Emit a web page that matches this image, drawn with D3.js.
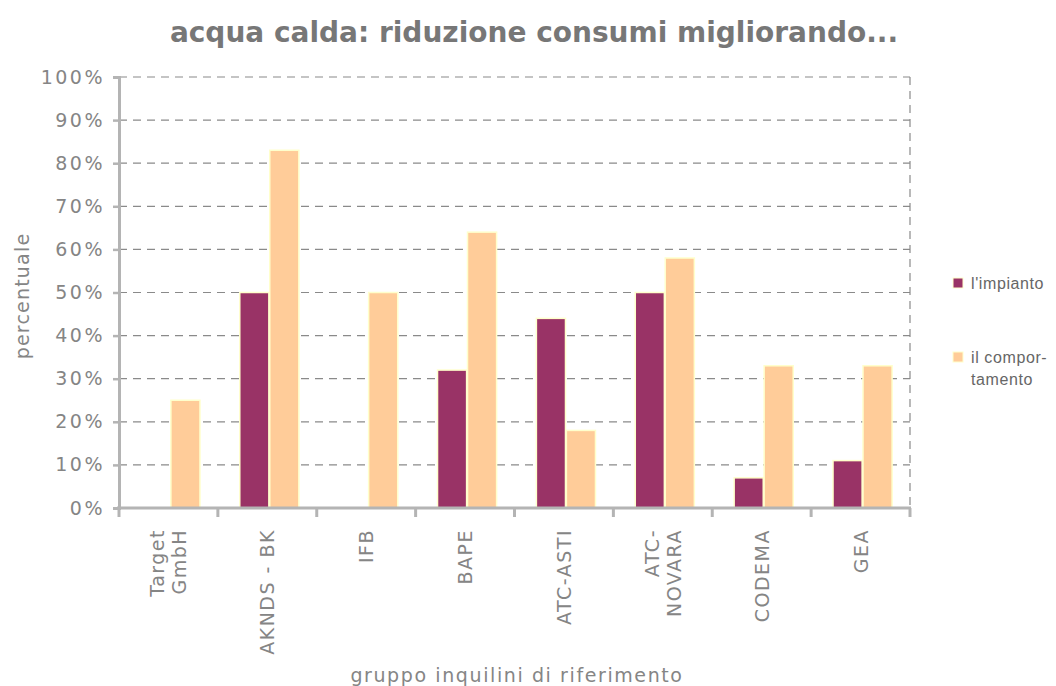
<!DOCTYPE html>
<html>
<head>
<meta charset="utf-8">
<script src="https://cdn.jsdelivr.net/npm/d3@7"></script>
<style>
  body { margin: 0; background: #fff; }
</style>
</head>
<body>
<script>
// data
var categories = [["Target", "GmbH"], ["AKNDS - BK"], ["IFB"], ["BAPE"], ["ATC-ASTI"], ["ATC-", "NOVARA"], ["CODEMA"], ["GEA"]];
var impianto = [0, 50, 0, 32, 44, 50, 7, 11];
var comportamento = [25, 83, 50, 64, 18, 58, 33, 33];
var seriesNames = ["l'impianto", "il compor-\ntamento"];
var seriesColors = ["#993366", "#ffcc99"];
var yTicks = [0, 10, 20, 30, 40, 50, 60, 70, 80, 90, 100];

var margin = {top: 77, right: 146, bottom: 178, left: 119},
    width = 1056 - margin.left - margin.right,
    height = 686 - margin.top - margin.bottom;

var fontMain = "Verdana, 'DejaVu Sans', sans-serif";
var textGray = "#858585";

var svg = d3.select("body").append("svg")
    .attr("width", 1056)
    .attr("height", 686);

var g = svg.append("g")
    .attr("transform", "translate(" + margin.left + "," + margin.top + ")");

var keys = categories.map(function(d, i) { return i; });

// setup x
var xScale = d3.scaleBand().domain(keys).range([0, width]),
    xInner = d3.scaleBand().domain([0, 1]).range([21, xScale.bandwidth() - 17]).padding(0.03);

// setup y
var yScale = d3.scaleLinear().domain([0, 100]).range([height, 0]);

// gridlines
g.selectAll(".grid")
    .data(yTicks.slice(1))
  .enter().append("line")
    .attr("x1", 0)
    .attr("x2", width)
    .attr("y1", function(d) { return yScale(d); })
    .attr("y2", function(d) { return yScale(d); })
    .attr("stroke", "#8a8a8a")
    .attr("stroke-width", 1.2)
    .attr("stroke-dasharray", "8,6");

// right border dashed
g.append("line")
    .attr("x1", width).attr("x2", width)
    .attr("y1", 0).attr("y2", height)
    .attr("stroke", "#8a8a8a")
    .attr("stroke-width", 1.2)
    .attr("stroke-dasharray", "8,6");

// bars: one entry per (category, series), zero values skipped
var barData = [];
keys.forEach(function(i) {
  [impianto[i], comportamento[i]].forEach(function(v, j) {
    if (v > 0) barData.push({cat: i, s: j, value: v});
  });
});

g.selectAll(".bar")
    .data(barData)
  .enter().append("rect")
    .attr("class", "bar")
    .attr("x", function(d) { return xScale(d.cat) + xInner(d.s); })
    .attr("y", function(d) { return yScale(d.value); })
    .attr("width", xInner.bandwidth())
    .attr("height", function(d) { return height - yScale(d.value); })
    .attr("fill", function(d) { return seriesColors[d.s]; })
    .attr("stroke", "#ffffcc")
    .attr("stroke-width", 1.5);

// y-axis
var yAxis = d3.axisLeft(yScale).tickValues(yTicks).tickSize(6).tickPadding(8)
    .tickFormat(function(d) { return d + "%"; });
var yg = g.append("g").call(yAxis);
yg.select(".domain").attr("stroke", "#b4b4b4").attr("stroke-width", 3);
yg.selectAll(".tick line").attr("stroke", "#b4b4b4").attr("stroke-width", 2.5);
yg.selectAll(".tick text")
    .attr("fill", textGray)
    .style("font-family", fontMain)
    .style("font-size", "19px")
    .style("letter-spacing", "2.5px");

// x-axis
var xTicks = d3.range(categories.length + 1).map(function(i) { return i * xScale.step(); });
var xg = g.append("g").attr("transform", "translate(0," + height + ")");
xg.append("line")
    .attr("x1", -2).attr("x2", width + 1)
    .attr("stroke", "#b4b4b4").attr("stroke-width", 3);
xg.selectAll(".xt")
    .data(xTicks)
  .enter().append("line")
    .attr("x1", function(d) { return d; })
    .attr("x2", function(d) { return d; })
    .attr("y1", 0).attr("y2", 9)
    .attr("stroke", "#b4b4b4").attr("stroke-width", 3);

// x labels
xg.selectAll(".xlab")
    .data(categories)
  .enter().append("text")
    .attr("transform", function(d, i) {
      var cx = xScale(i) + xScale.bandwidth() / 2;
      return "translate(" + cx + ",21) rotate(-90)";
    })
    .style("text-anchor", "end")
    .style("font-family", fontMain)
    .style("font-size", "19px")
    .style("letter-spacing", "1.5px")
    .attr("fill", textGray)
    .each(function(d) {
      var t = d3.select(this);
      var n = d.length;
      d.forEach(function(line, k) {
        t.append("tspan")
          .attr("x", 0)
          .attr("y", (k - (n - 1) / 2) * 22 + 7)
          .text(line);
      });
    });

// axis titles
svg.append("text")
    .attr("x", 517)
    .attr("y", 682)
    .style("text-anchor", "middle")
    .style("font-family", fontMain)
    .style("font-size", "19px")
    .style("letter-spacing", "1.6px")
    .attr("fill", textGray)
    .text("gruppo inquilini di riferimento");

svg.append("text")
    .attr("transform", "translate(29,296) rotate(-90)")
    .style("text-anchor", "middle")
    .style("font-family", fontMain)
    .style("font-size", "19px")
    .style("letter-spacing", "1.2px")
    .attr("fill", textGray)
    .text("percentuale");

// title
svg.append("text")
    .attr("x", 534)
    .attr("y", 42)
    .style("text-anchor", "middle")
    .style("font-family", "'DejaVu Sans', Verdana, sans-serif")
    .style("font-weight", "bold")
    .style("font-size", "28px")
    .attr("fill", "#777777")
    .text("acqua calda: riduzione consumi migliorando...");

// legend
var legend = svg.selectAll(".legend")
    .data(seriesNames)
  .enter().append("g")
    .attr("transform", function(d, i) { return "translate(953," + (278 + i * 74) + ")"; });

legend.append("rect")
    .attr("width", 10).attr("height", 10)
    .attr("fill", function(d, i) { return seriesColors[i]; })
    .attr("stroke", "#ffffcc").attr("stroke-width", 1);

legend.append("text")
    .style("font-family", "'Liberation Sans', Arial, sans-serif")
    .style("font-size", "16px")
    .style("letter-spacing", "0.6px")
    .attr("fill", "#666666")
    .each(function(d) {
      var t = d3.select(this);
      d.split("\n").forEach(function(line, k) {
        t.append("tspan").attr("x", 18).attr("y", 11 + k * 22).text(line);
      });
    });
</script>
</body>
</html>
